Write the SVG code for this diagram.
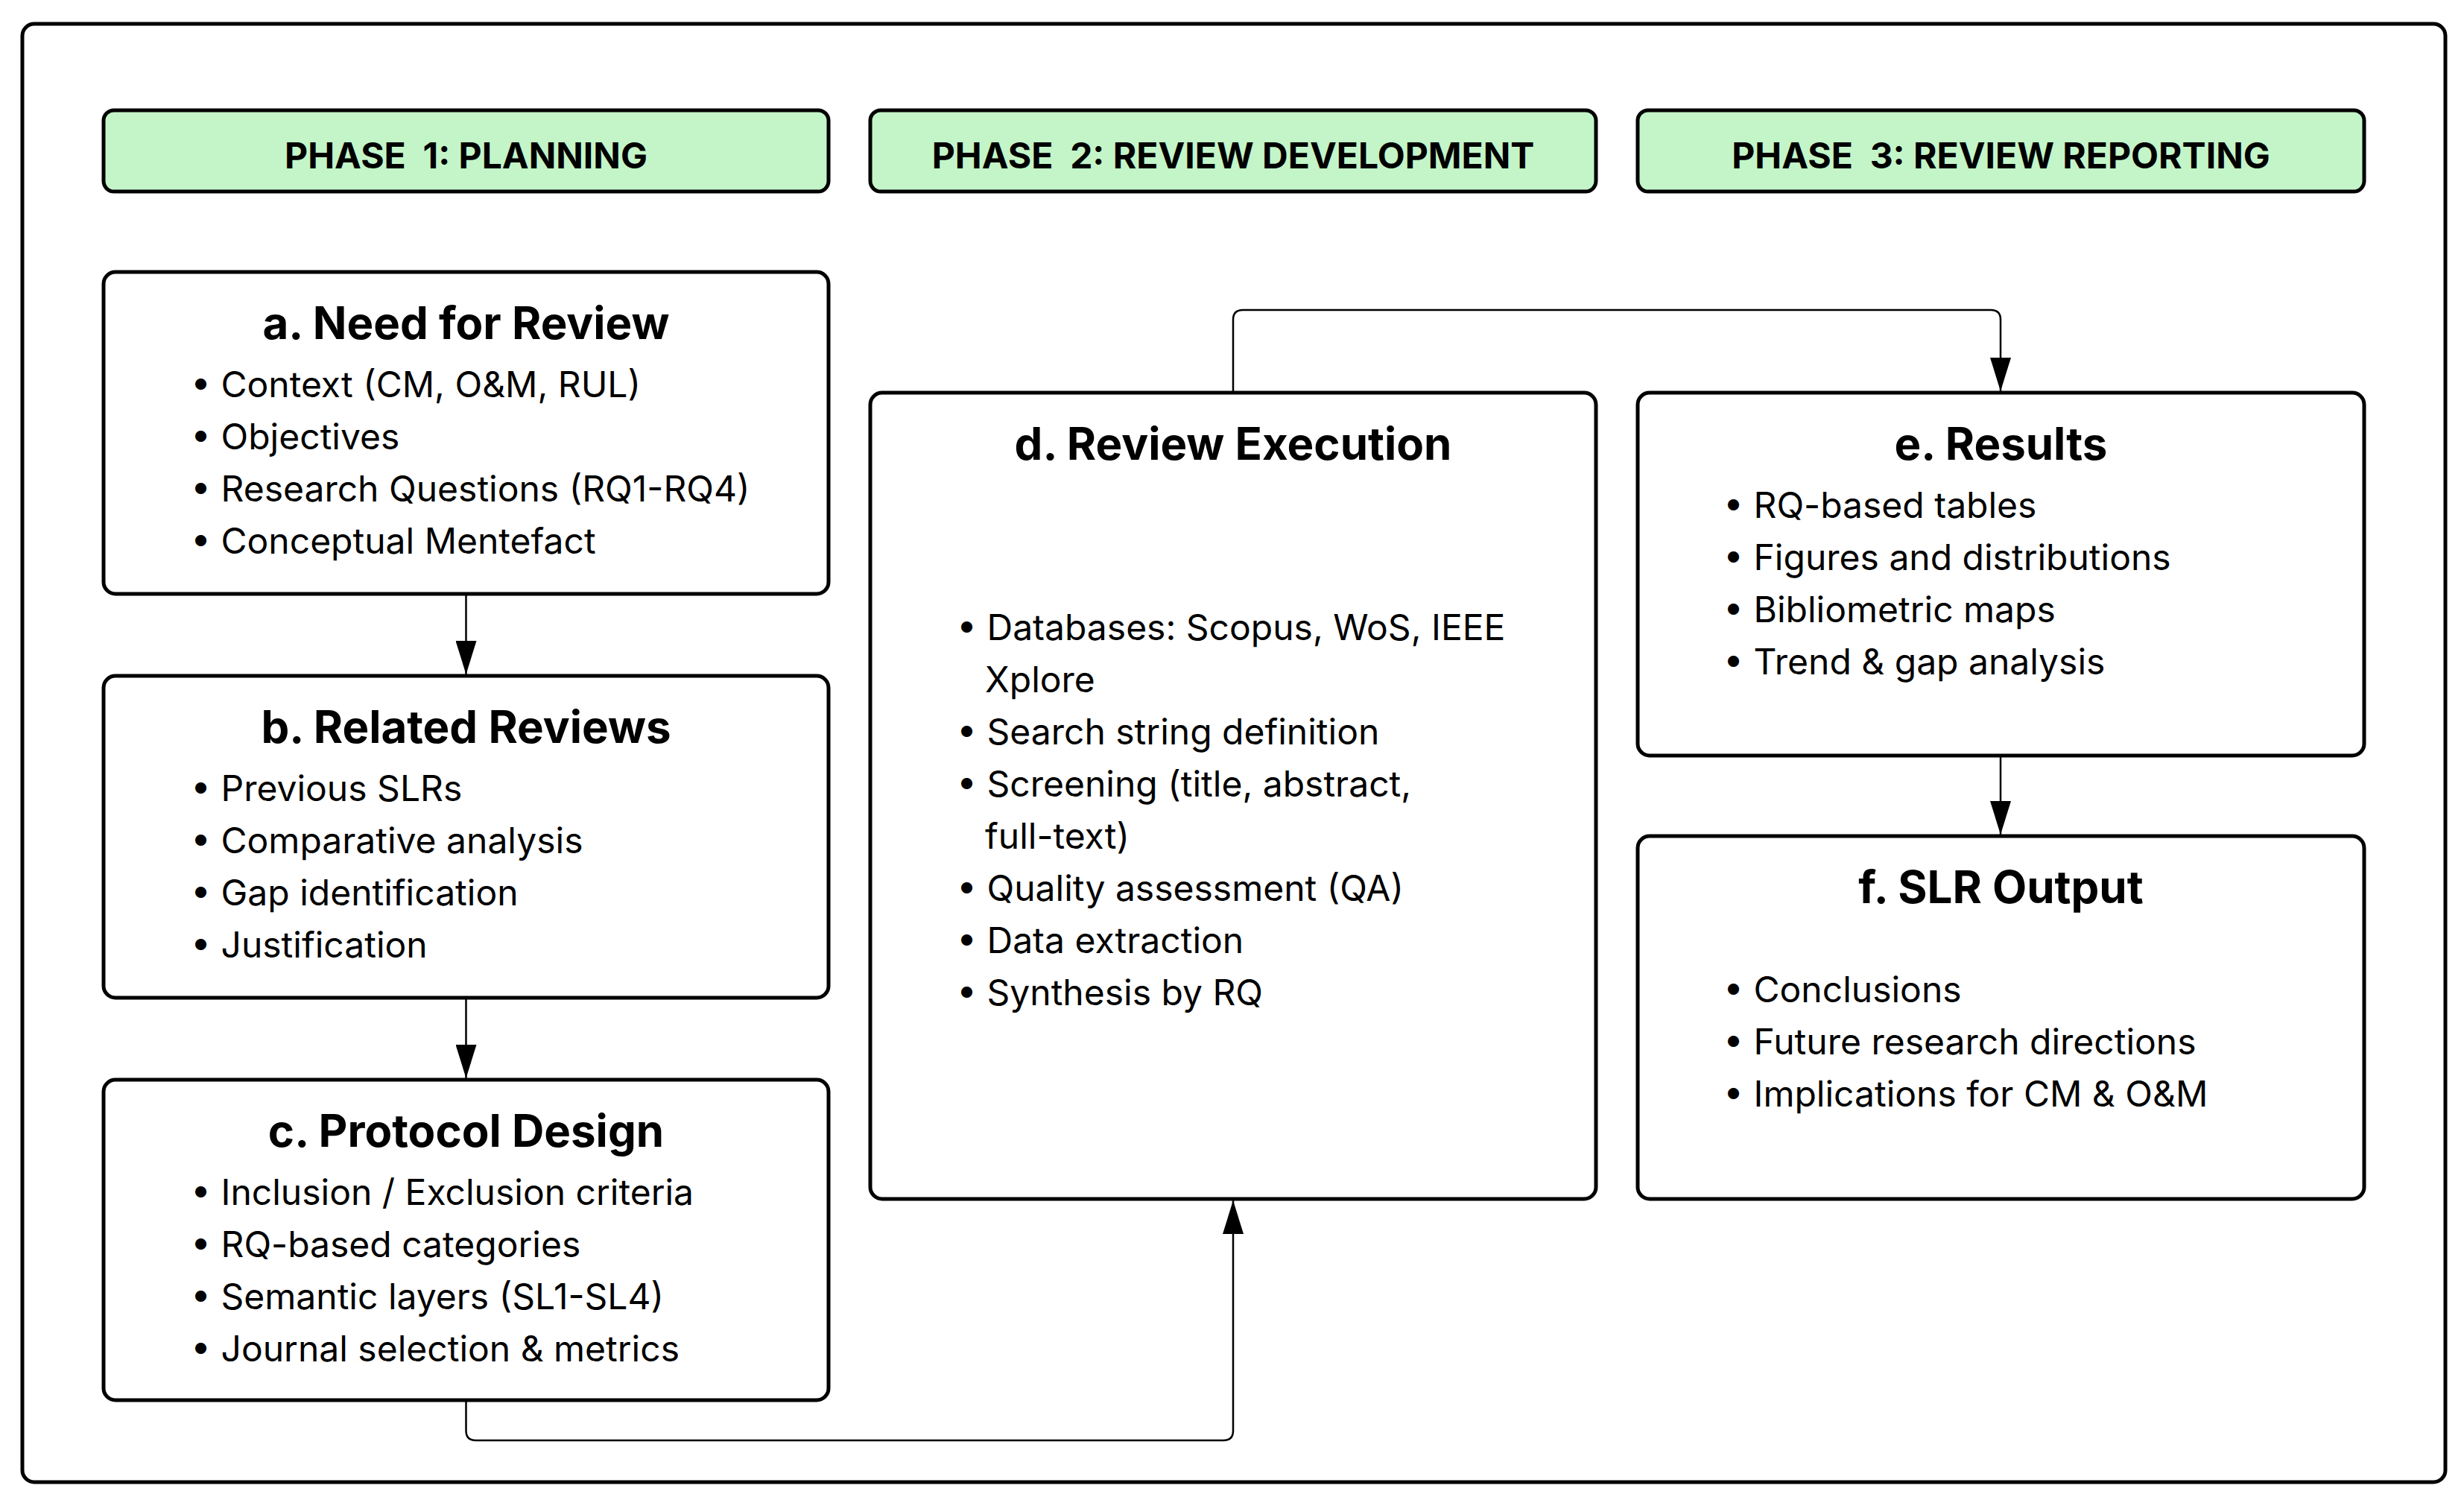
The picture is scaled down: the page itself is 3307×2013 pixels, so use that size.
<svg xmlns="http://www.w3.org/2000/svg" width="3307" height="2013" viewBox="0 0 3307 2013">
<defs>
<style>
.frame{fill:#fff;stroke:#000;stroke-width:5}
.phase{fill:#C3F5C8;stroke:#000;stroke-width:5}
.node{fill:#fff;stroke:#000;stroke-width:5}
.ph{font-family:Inter,"Liberation Sans",sans-serif;font-weight:700;font-size:48px;fill:#000;text-anchor:middle;white-space:pre}
.title{font-family:Inter,"Liberation Sans",sans-serif;font-weight:700;font-size:60px;fill:#000;text-anchor:middle}
.item{font-family:Inter,"Liberation Sans",sans-serif;font-weight:400;font-size:48px;fill:#000}
.conn{fill:none;stroke:#000;stroke-width:2.5}
</style>
<marker id="arrd" viewBox="0 0 45 28" refX="45" refY="14" markerWidth="45" markerHeight="28" markerUnits="userSpaceOnUse" orient="auto">
<path d="M0 0 L45 14 L0 28 Z" fill="#000"/>
</marker>
</defs>
<rect x="0" y="0" width="3307" height="2013" fill="#fff"/>
<rect class="frame" x="30" y="32" width="3252" height="1957" rx="16"/>

<g id="phase1"><rect class="phase" x="139" y="148" width="973" height="109" rx="14"/><text class="ph" x="625.5" y="226" xml:space="preserve">PHASE  1: PLANNING</text></g>
<g id="phase2"><rect class="phase" x="1168" y="148" width="974" height="109" rx="14"/><text class="ph" x="1655" y="226" xml:space="preserve">PHASE  2: REVIEW DEVELOPMENT</text></g>
<g id="phase3"><rect class="phase" x="2198" y="148" width="975" height="109" rx="14"/><text class="ph" x="2685.5" y="226" xml:space="preserve">PHASE  3: REVIEW REPORTING</text></g>

<g id="connectors">
<path class="conn" d="M625.5 797 V905" marker-end="url(#arrd)"/>
<path class="conn" d="M625.5 1339 V1447" marker-end="url(#arrd)"/>
<path class="conn" d="M625.5 1879 V1920 Q625.5 1933 638.5 1933 H1642 Q1655 1933 1655 1920 V1611" marker-end="url(#arrd)"/>
<path class="conn" d="M1655 527 V429 Q1655 416 1668 416 H2672 Q2685 416 2685 429 V525" marker-end="url(#arrd)"/>
<path class="conn" d="M2685 1014 V1120" marker-end="url(#arrd)"/>
</g>

<g id="node-a"><rect class="node" x="139" y="365" width="973" height="432" rx="16"/>
<text class="title" x="625.5" y="455">a. Need for Review</text>
<text class="item" x="256" y="533">• Context (CM, O&amp;M, RUL)</text>
<text class="item" x="256" y="603">• Objectives</text>
<text class="item" x="256" y="673">• Research Questions (RQ1-RQ4)</text>
<text class="item" x="256" y="743">• Conceptual Mentefact</text>
</g>
<g id="node-b"><rect class="node" x="139" y="907" width="973" height="432" rx="16"/>
<text class="title" x="625.5" y="997">b. Related Reviews</text>
<text class="item" x="256" y="1075">• Previous SLRs</text>
<text class="item" x="256" y="1145">• Comparative analysis</text>
<text class="item" x="256" y="1215">• Gap identification</text>
<text class="item" x="256" y="1285">• Justification</text>
</g>
<g id="node-c"><rect class="node" x="139" y="1449" width="973" height="430" rx="16"/>
<text class="title" x="625.5" y="1539">c. Protocol Design</text>
<text class="item" x="256" y="1617">• Inclusion / Exclusion criteria</text>
<text class="item" x="256" y="1687">• RQ-based categories</text>
<text class="item" x="256" y="1757">• Semantic layers (SL1-SL4)</text>
<text class="item" x="256" y="1827">• Journal selection &amp; metrics</text>
</g>
<g id="node-d"><rect class="node" x="1168" y="527" width="974" height="1082" rx="16"/>
<text class="title" x="1655" y="617">d. Review Execution</text>
<text class="item" x="1284" y="859">• Databases: Scopus, WoS, IEEE</text>
<text class="item" x="1322" y="929">Xplore</text>
<text class="item" x="1284" y="999">• Search string definition</text>
<text class="item" x="1284" y="1069">• Screening (title, abstract,</text>
<text class="item" x="1322" y="1139">full-text)</text>
<text class="item" x="1284" y="1209">• Quality assessment (QA)</text>
<text class="item" x="1284" y="1279">• Data extraction</text>
<text class="item" x="1284" y="1349">• Synthesis by RQ</text>
</g>
<g id="node-e"><rect class="node" x="2198" y="527" width="975" height="487" rx="16"/>
<text class="title" x="2685.5" y="617">e. Results</text>
<text class="item" x="2313" y="695">• RQ-based tables</text>
<text class="item" x="2313" y="765">• Figures and distributions</text>
<text class="item" x="2313" y="835">• Bibliometric maps</text>
<text class="item" x="2313" y="905">• Trend &amp; gap analysis</text>
</g>
<g id="node-f"><rect class="node" x="2198" y="1122" width="975" height="487" rx="16"/>
<text class="title" x="2685.5" y="1212">f. SLR Output</text>
<text class="item" x="2313" y="1345">• Conclusions</text>
<text class="item" x="2313" y="1415">• Future research directions</text>
<text class="item" x="2313" y="1485">• Implications for CM &amp; O&amp;M</text>
</g>
</svg>
